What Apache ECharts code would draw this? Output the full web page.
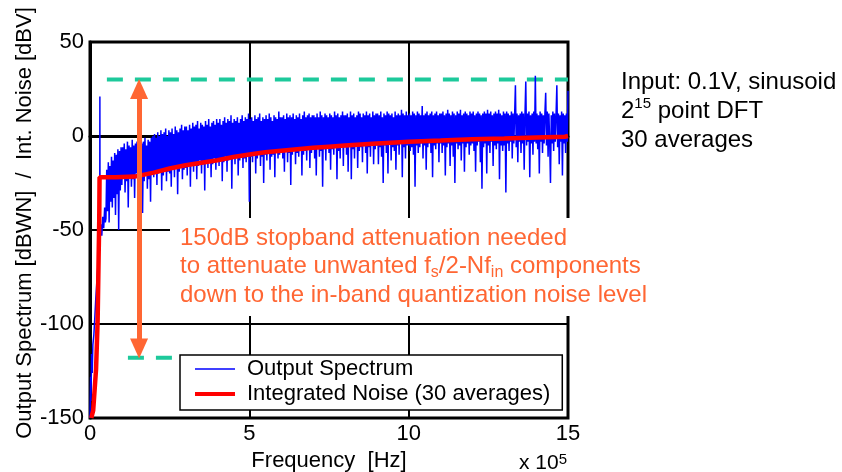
<!DOCTYPE html>
<html><head><meta charset="utf-8">
<script src="https://cdn.jsdelivr.net/npm/echarts@6/dist/echarts.min.js"></script>
<style>html,body{margin:0;padding:0;background:#fff}#c{width:842px;height:472px}</style>
</head><body><div id="c"></div>
<script>
const FONT = '"Liberation Sans", Arial, Helvetica, sans-serif';
const ORANGE = '#FF6633';
const GREEN = '#1DC99B';

// axis ranges (x in units of 10^5 Hz)
const xMin = 0, xMax = 15, xStep = 5;
const yMin = -150, yMax = 50, yStep = 50;

// Output spectrum near DC: [freq, dB]
const spectrumSkirt = [[0,-150],[0.02,-128],[0.03,-141],[0.05,-116],[0.07,-126],[0.09,-111],[0.12,-106],[0.15,-97],[0.18,-87],[0.21,-79],[0.24,-71],[0.27,-63],[0.29,-57],[0.305,-53],[0.31,21],[0.315,-51],[0.34,-47],[0.37,-53],[0.40,-43],[0.43,-49],[0.46,-38],[0.48,-46]];

// Output spectrum on the DFT bin grid starting at noiseStart with spacing noiseStep
const noiseStart = 0.5, noiseStep = 0.025;
const spectrumNoise = [
 -44,-18,-40,-14,-46,-16,-35,-11,-38,-13,-33,-9,-42,-10,-31,-7,-50,-8,-29,-6,
 -26,-6,-22,-4,-30,-7,-24,-3,-38,-5,-21,-6,-27,-2,-23,-5,-33,-4,-20,-3,
 -25,-6,-29,-2,-22,-4,-41,-3,-24,-1,-21,-5,-28,-2,-23,-3,-35,-1,-20,0,
 -22,1,-19,-1,-26,2,-20,0,-18,3,-29,1,-21,2,-17,4,-24,0,-19,3,
 -20,2,-27,4,-18,1,-22,5,-17,3,-31,2,-19,4,-16,6,-23,3,-18,5,
 -17,5,-21,3,-15,6,-27,4,-16,7,-19,5,-14,6,-23,8,-16,4,-13,7,
 -20,6,-15,5,-29,8,-14,6,-17,9,-13,5,-22,7,-15,8,-12,6,-18,9,
 -13,7,-16,9,-12,6,-24,8,-14,10,-11,7,-19,9,-13,8,-12,11,-28,7,
 -12,9,-15,8,-11,10,-21,7,-13,9,-10,11,-17,8,-12,10,-14,9,-11,12,
 -35,9,-11,10,-14,8,-10,11,-20,9,-12,10,-9,12,-16,8,-11,10,-25,9,
 -10,11,-13,9,-9,12,-18,10,-11,8,-10,11,-22,10,-9,9,-12,13,-10,10,
 -9,10,-12,11,-19,9,-8,12,-14,10,-9,11,-26,10,-10,12,-8,9,-15,11,
 -9,10,-11,12,-7,9,-21,11,-10,13,-8,10,-13,11,-7,12,-17,10,-9,11,
 -7,11,-12,10,-21,12,-6,10,-11,13,-8,11,-27,10,-7,12,-13,11,-6,10,
 -9,12,-18,11,-7,10,-10,13,-6,11,-23,12,-8,10,-12,11,-6,13,-16,11,
 -6,11,-10,12,-19,10,-5,13,-23,11,-7,12,-12,10,-5,11,-17,13,-8,12,
 -6,10,-14,12,-5,11,-9,13,-20,11,-6,12,-11,10,-5,13,-15,11,-7,12,
 -5,12,-15,11,-6,13,-11,10,-25,12,-5,11,-9,13,-20,12,-4,11,-13,12,
 -6,10,-8,13,-18,11,-5,12,-10,11,-4,14,-22,12,-6,11,-12,13,-5,11,
 -5,12,-8,11,-6,13,-10,12,-27,11,-5,13,-9,12,-6,11,-4,16,-12,11,
 -5,12,-18,13,-6,11,-4,12,-9,13,-22,11,-5,12,-7,13,-4,11,-14,12,
 -4,12,-9,13,-5,11,-21,12,-6,14,-4,12,-16,11,-5,13,-11,12,-25,11,
 -4,13,-7,12,-5,14,-13,11,-4,12,-19,13,-6,12,-4,11,-10,13,-5,12,
 -4,13,-8,11,-19,12,-5,13,-3,12,-14,11,-28,12,-6,13,-4,12,-20,14,
 -5,12,-9,13,-3,11,-16,12,-5,13,-7,12,-4,14,-23,12,-5,11,-8,13,
 -5,12,-30,13,-4,12,-8,11,-3,13,-12,12,-4,11,27,-6,12,-14,11,-3,
 12,-9,13,-4,12,-18,11,29,-5,12,-3,13,-22,11,-4,12,-10,13,-3,32,
 -4,12,-7,11,-20,13,-3,12,-9,11,-4,12,23,-5,13,-11,12,-3,-25,11,
 -4,13,-8,12,-3,11,27,-6,12,-15,11,-3,13,-21,12,-4,11,-9,12,-3,24
];

// Integrated noise (30 averages): [freq, dBV]
const integratedNoise = [[0.04,-150],[0.1,-146],[0.19,-124],[0.24,-98],[0.27,-65],[0.29,-45],[0.30,-22],[0.8,-22],[1.4,-21.6],[2.0,-19.5],[2.5,-17.3],[3.0,-15.6],[3.5,-14.2],[4.0,-12.9],[4.5,-11.2],[5.0,-9.8],[5.5,-8.7],[6.0,-7.8],[6.5,-7.0],[7.0,-6.3],[7.5,-5.7],[8.0,-5.1],[9.0,-4.0],[10.0,-3.0],[11.0,-2.4],[12.0,-1.7],[13.0,-1.3],[14.0,-0.8],[14.9,-0.4],[15.0,0]];

// reference levels and arrow
const levelTop = [[0.53,30],[15,30]];
const levelBottom = [[1.19,-118],[2.6,-118]];
const arrowX = 1.54, arrowTop = 25, arrowBottom = -113;

const seriesNames = ['Output Spectrum', 'Integrated Noise (30 averages)'];

const spectrumData = spectrumSkirt.concat(
  spectrumNoise.map((v, i) => [+(noiseStart + i * noiseStep).toFixed(3), v])
);

const chart = echarts.init(document.getElementById('c'), null, {renderer: 'canvas'});
chart.setOption({
  animation: false,
  backgroundColor: '#fff',
  textStyle: {fontFamily: FONT},
  grid: {left: 90, right: 274, top: 42, bottom: 54, containLabel: false, outerBoundsMode: 'none',
    show: true, borderColor: '#000', borderWidth: 3, backgroundColor: 'transparent'},
  xAxis: {
    type: 'value', min: xMin, max: xMax, interval: xStep,
    name: 'Frequency  [Hz]', nameLocation: 'middle', nameGap: 30,
    nameTextStyle: {fontSize: 22, color: '#000', fontFamily: FONT},
    axisLine: {show: true, lineStyle: {color: '#000', width: 3}},
    axisTick: {show: false},
    axisLabel: {fontSize: 22, color: '#000', margin: 5, fontFamily: FONT, alignMinLabel: 'center', alignMaxLabel: 'center'},
    splitLine: {show: true, lineStyle: {color: '#000', width: 2}}
  },
  yAxis: {
    type: 'value', min: yMin, max: yMax, interval: yStep,
    axisLine: {show: true, lineStyle: {color: '#000', width: 3}},
    axisTick: {show: false},
    axisLabel: {fontSize: 22, color: '#000', margin: 6, fontFamily: FONT,
      verticalAlignMinLabel: 'middle', verticalAlignMaxLabel: 'middle'},
    splitLine: {show: true, lineStyle: {color: '#000', width: 2}}
  },
  legend: {
    orient: 'vertical', left: 180, top: 355,
    padding: [3, 12, 5, 13], itemWidth: 40, itemHeight: 14, itemGap: 3,
    backgroundColor: '#fff', borderColor: '#000', borderWidth: 1.5, borderRadius: 0,
    selectedMode: false, z: 20,
    itemStyle: {opacity: 0},
    textStyle: {fontSize: 22, color: '#000', fontFamily: FONT, padding: [0, 0, 0, 7]},
    data: [
      {name: seriesNames[0], lineStyle: {width: 1.5}, itemStyle: {opacity: 0}},
      {name: seriesNames[1], lineStyle: {width: 4}, itemStyle: {opacity: 0}}
    ]
  },
  series: [
    {
      name: 'levelTop', type: 'line', data: levelTop, symbol: 'none', z: 3, silent: true,
      lineStyle: {color: GREEN, width: 4, type: [16, 12]}
    },
    {
      name: 'levelBottom', type: 'line', data: levelBottom, symbol: 'none', z: 3, silent: true,
      lineStyle: {color: GREEN, width: 4, type: [16, 12]}
    },
    {
      name: seriesNames[0], type: 'line', data: spectrumData, symbol: 'none', showSymbol: false,
      sampling: null, z: 4, color: '#0000FF',
      lineStyle: {color: '#0000FF', width: 1.5}
    },
    {
      name: seriesNames[1], type: 'line', data: integratedNoise, symbol: 'none', showSymbol: false,
      z: 5, color: '#FF0000',
      lineStyle: {color: '#FF0000', width: 4.5}
    },
    {
      name: 'arrow', type: 'line', data: [], z: 6, silent: true,
      markLine: {
        silent: true, z: 6, animation: false,
        symbol: ['triangle', 'triangle'], symbolSize: [18, 20],
        label: {show: false},
        lineStyle: {color: ORANGE, width: 5, type: 'solid'},
        itemStyle: {color: ORANGE},
        data: [[{coord: [arrowX, arrowTop]}, {coord: [arrowX, arrowBottom]}]]
      }
    }
  ],
  graphic: [
    {type: 'rect', z: 50, shape: {x: 170, y: 218, width: 406, height: 98}, style: {fill: '#fff'}},
    {
      type: 'text', z: 51, x: 180, y: 223.75,
      style: {
        text: '150dB stopband attenuation needed\nto attenuate unwanted f{sub|s}/2-Nf{sub|in} components\ndown to the in-band quantization noise level',
        fill: ORANGE, fontSize: 24, fontFamily: FONT, lineHeight: 28.5,
        textAlign: 'left', textVerticalAlign: 'top',
        rich: {sub: {fontSize: 16, lineHeight: 14, verticalAlign: 'bottom', fill: ORANGE, fontFamily: FONT}}
      }
    },
    {
      type: 'text', z: 51, x: 621, y: 67.5,
      style: {
        text: 'Input: 0.1V, sinusoid\n2{sup|15} point DFT\n30 averages',
        fill: '#000', fontSize: 24, fontFamily: FONT, lineHeight: 29,
        textAlign: 'left', textVerticalAlign: 'top',
        rich: {sup: {fontSize: 15, lineHeight: 20, verticalAlign: 'top', fill: '#000', fontFamily: FONT}}
      }
    },
    {
      type: 'text', z: 51, x: 25, y: 223, rotation: Math.PI / 2,
      style: {
        text: 'Output Spectrum [dBWN]  /  Int. Noise [dBV]',
        fill: '#000', fontSize: 22, fontFamily: FONT,
        textAlign: 'center', textVerticalAlign: 'middle'
      }
    },
    {
      type: 'text', z: 51, x: 519, y: 452.5,
      style: {
        text: 'x 10{sup|5}',
        fill: '#000', fontSize: 21, fontFamily: FONT, lineHeight: 22,
        textAlign: 'left', textVerticalAlign: 'top',
        rich: {sup: {fontSize: 15, lineHeight: 10, verticalAlign: 'top', fill: '#000', fontFamily: FONT}}
      }
    }
  ]
});
</script>
</body></html>
